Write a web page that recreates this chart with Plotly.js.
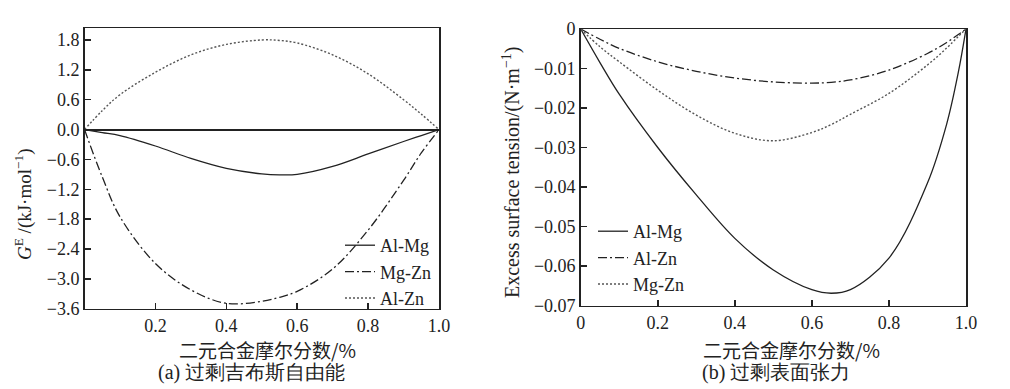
<!DOCTYPE html>
<html><head><meta charset="utf-8">
<script src="https://cdn.plot.ly/plotly-3.0.1.min.js"></script>
<style>html,body{margin:0;padding:0;background:#fff}#chart{width:1010px;height:389px}</style>
</head><body><div id="chart"></div>
<script>
// ---- Data: (a) excess Gibbs free energy, kJ/mol ----
const xGibbs = [0, 0.05, 0.1, 0.2, 0.3, 0.4, 0.5, 0.55, 0.6, 0.7, 0.8, 0.9, 0.95, 1.0];
const gAlMg  = [0, -0.06, -0.12, -0.33, -0.58, -0.78, -0.89, -0.91, -0.90, -0.74, -0.49, -0.24, -0.12, 0];
const gMgZn  = [0, -0.95, -1.75, -2.69, -3.22, -3.49, -3.45, -3.37, -3.25, -2.80, -2.02, -1.02, -0.47, 0];
const gAlZn  = [0, 0.38, 0.70, 1.15, 1.50, 1.71, 1.80, 1.79, 1.74, 1.50, 1.12, 0.60, 0.31, 0];

// ---- Data: (b) excess surface tension, N/m ----
const xSurf  = [0, 0.05, 0.1, 0.2, 0.3, 0.4, 0.5, 0.6, 0.65, 0.7, 0.8, 0.9, 0.95, 0.98, 1.0];
const sAlMg  = [0, -0.0085, -0.0165, -0.030, -0.042, -0.053, -0.061, -0.066, -0.0669, -0.0660, -0.058, -0.039, -0.024, -0.011, 0];
const sAlZn  = [0, -0.0026, -0.0049, -0.0083, -0.0107, -0.0124, -0.0134, -0.0137, -0.0135, -0.0129, -0.0104, -0.0062, -0.0034, -0.0014, 0];
const sMgZn  = [0, -0.0045, -0.0083, -0.0155, -0.0218, -0.0264, -0.0283, -0.0262, -0.0242, -0.0216, -0.0163, -0.0091, -0.0048, -0.0019, 0];

const xTicksA = [0.2, 0.4, 0.6, 0.8, 1.0];
const xTickTextA = ["0.2", "0.4", "0.6", "0.8", "1.0"];
const yTicksA = [-3.6, -3.0, -2.4, -1.8, -1.2, -0.6, 0, 0.6, 1.2, 1.8];
const yTickTextA = ["\u22123.6", "\u22123.0", "\u22122.4", "\u22121.8", "\u22121.2", "\u22120.6", "0.0", "0.6", "1.2", "1.8"];
const xTicksB = [0, 0.2, 0.4, 0.6, 0.8, 1.0];
const xTickTextB = ["0", "0.2", "0.4", "0.6", "0.8", "1.0"];
const yTicksB = [-0.07, -0.06, -0.05, -0.04, -0.03, -0.02, -0.01, 0];
const yTickTextB = ["\u22120.07", "\u22120.06", "\u22120.05", "\u22120.04", "\u22120.03", "\u22120.02", "\u22120.01", "0"];

const FONT = "Liberation Serif";
const CJK = "Noto Sans CJK SC";
const solid = {color: '#222', width: 1.3, dash: 'solid', shape: 'spline'};
const dashdot = {color: '#222', width: 1.3, dash: '9px,3px,2px,3px', shape: 'spline'};
const dotted = {color: '#555', width: 1.4, dash: '2px,2px', shape: 'spline'};

const traces = [
  {x: xGibbs, y: gAlMg, name: 'Al-Mg', mode: 'lines', line: solid, xaxis: 'x', yaxis: 'y', legend: 'legend'},
  {x: xGibbs, y: gMgZn, name: 'Mg-Zn', mode: 'lines', line: dashdot, xaxis: 'x', yaxis: 'y', legend: 'legend'},
  {x: xGibbs, y: gAlZn, name: 'Al-Zn', mode: 'lines', line: dotted, xaxis: 'x', yaxis: 'y', legend: 'legend'},
  {x: xSurf, y: sAlMg, name: 'Al-Mg', mode: 'lines', line: solid, xaxis: 'x2', yaxis: 'y2', legend: 'legend2'},
  {x: xSurf, y: sAlZn, name: 'Al-Zn', mode: 'lines', line: dashdot, xaxis: 'x2', yaxis: 'y2', legend: 'legend2'},
  {x: xSurf, y: sMgZn, name: 'Mg-Zn', mode: 'lines', line: dotted, xaxis: 'x2', yaxis: 'y2', legend: 'legend2'}
];

function ax(extra) {
  return Object.assign({
    showline: true, linecolor: '#222', linewidth: 1.5, mirror: true,
    ticks: 'inside', ticklen: 6, tickwidth: 1.5, tickcolor: '#222',
    showgrid: false, zeroline: false, tickmode: 'array',
    tickfont: {family: FONT, size: 18, color: '#222'}
  }, extra);
}

const H = 389;
const layout = {
  width: 1010, height: 389,
  font: {family: FONT, size: 18, color: '#222'},
  margin: {l: 0, r: 0, t: 0, b: 0},
  paper_bgcolor: '#fff', plot_bgcolor: '#fff',
  showlegend: true,
  xaxis: ax({domain: [84.5/1010, 439/1010], range: [0, 1], tickvals: xTicksA, ticktext: xTickTextA}),
  yaxis: ax({domain: [(H-308.8)/H, (H-28)/H], range: [-3.6, 2.04], tickvals: yTicksA, ticktext: yTickTextA,
    zeroline: true, zerolinecolor: '#222', zerolinewidth: 2}),
  xaxis2: ax({domain: [580.7/1010, 966/1010], range: [0, 1], tickvals: xTicksB, ticktext: xTickTextB, anchor: 'y2'}),
  yaxis2: ax({domain: [(H-305.5)/H, (H-29)/H], range: [-0.07, 0], tickvals: yTicksB, ticktext: yTickTextB, anchor: 'x2'}),
  legend: {x: 340/1010, y: (H-227)/H, xanchor: 'left', yanchor: 'top', itemwidth: 30,
    bgcolor: 'rgba(0,0,0,0)', font: {family: FONT, size: 18, color: '#222'}, tracegroupgap: 0},
  legend2: {x: 593/1010, y: (H-213)/H, xanchor: 'left', yanchor: 'top', itemwidth: 30,
    bgcolor: 'rgba(0,0,0,0)', font: {family: FONT, size: 18, color: '#222'}, tracegroupgap: 0},
  annotations: [
    {xref: 'paper', yref: 'paper', x: 267/1010, y: (H-349)/H, xanchor: 'center', yanchor: 'middle',
      text: '二元合金摩尔分数/%', showarrow: false, font: {family: CJK, size: 19, color: '#222'}},
    {xref: 'paper', yref: 'paper', x: 251/1010, y: (H-372)/H, xanchor: 'center', yanchor: 'middle',
      text: '(a) 过剩吉布斯自由能', showarrow: false, font: {family: FONT, size: 20, color: '#222'}},
    {xref: 'paper', yref: 'paper', x: 791/1010, y: (H-349)/H, xanchor: 'center', yanchor: 'middle',
      text: '二元合金摩尔分数/%', showarrow: false, font: {family: CJK, size: 19, color: '#222'}},
    {xref: 'paper', yref: 'paper', x: 776/1010, y: (H-372)/H, xanchor: 'center', yanchor: 'middle',
      text: '(b) 过剩表面张力', showarrow: false, font: {family: FONT, size: 20, color: '#222'}},
    {xref: 'paper', yref: 'paper', x: 23/1010, y: (H-205)/H, xanchor: 'center', yanchor: 'middle', textangle: -90,
      text: '<i>G</i><sup>E</sup> /(kJ·mol<sup>\u22121</sup>)', showarrow: false,
      font: {family: FONT, size: 19, color: '#222'}},
    {xref: 'paper', yref: 'paper', x: 511/1010, y: (H-172)/H, xanchor: 'center', yanchor: 'middle', textangle: -90,
      text: 'Excess surface tension/(N·m<sup>\u22121</sup>)', showarrow: false,
      font: {family: FONT, size: 20, color: '#222'}}
  ]
};

Plotly.newPlot('chart', traces, layout, {staticPlot: true, displayModeBar: false});
</script>
</body></html>
